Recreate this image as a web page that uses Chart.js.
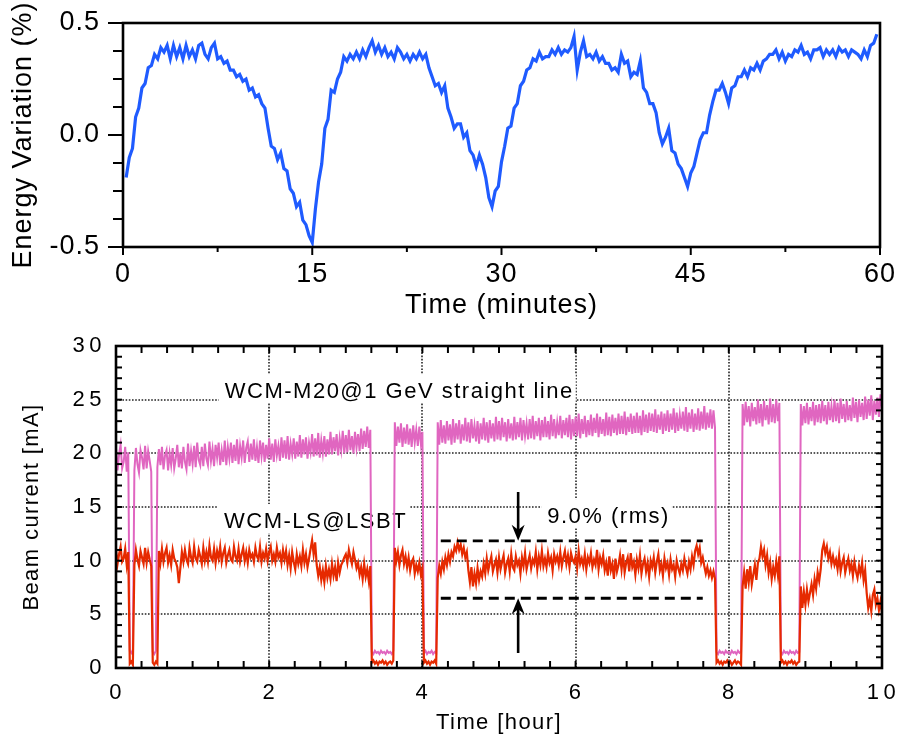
<!DOCTYPE html>
<html>
<head>
<meta charset="utf-8">
<script src="https://cdn.jsdelivr.net/npm/chart.js@4.4.1/dist/chart.umd.min.js"></script>
<style>
  body { margin: 0; background: #fff; width: 901px; height: 737px; overflow: hidden; position: relative; }
  canvas { position: absolute; left: 0; }
  #energy { top: 0; }
  #beam { top: 330px; }
</style>
</head>
<body>
<canvas id="energy" width="901" height="330"></canvas>
<canvas id="beam" width="901" height="407"></canvas>
<script>
// ---- top panel: energy variation, one sample every 0.25 min starting at 0.25 min
const energyStart = 0.25;
const energyStep = 0.25;
const energy = [
  -0.19, -0.10, -0.06, 0.08, 0.12, 0.21, 0.23, 0.30, 0.31, 0.36,
  0.34, 0.39, 0.37, 0.40, 0.34, 0.40, 0.35, 0.39, 0.34, 0.40,
  0.35, 0.38, 0.34, 0.40, 0.41, 0.36, 0.34, 0.39, 0.41, 0.34,
  0.35, 0.32, 0.33, 0.29, 0.29, 0.26, 0.27, 0.24, 0.25, 0.20,
  0.21, 0.17, 0.18, 0.14, 0.12, 0.03, -0.05, -0.06, -0.11, -0.08,
  -0.15, -0.16, -0.24, -0.26, -0.32, -0.30, -0.38, -0.40, -0.45, -0.48,
  -0.33, -0.21, -0.13, 0.03, 0.07, 0.20, 0.19, 0.25, 0.28, 0.35,
  0.33, 0.36, 0.34, 0.37, 0.34, 0.38, 0.35, 0.39, 0.42, 0.37,
  0.40, 0.36, 0.39, 0.35, 0.37, 0.34, 0.39, 0.37, 0.34, 0.36,
  0.33, 0.36, 0.34, 0.37, 0.34, 0.36, 0.30, 0.26, 0.22, 0.23,
  0.19, 0.22, 0.12, 0.08, 0.03, 0.05, 0.05, -0.01, 0.01, -0.07,
  -0.09, -0.14, -0.09, -0.13, -0.19, -0.28, -0.32, -0.25, -0.23, -0.12,
  -0.05, 0.03, 0.04, 0.12, 0.14, 0.22, 0.24, 0.29, 0.30, 0.34,
  0.33, 0.37, 0.34, 0.35, 0.35, 0.38, 0.36, 0.39, 0.36, 0.38,
  0.37, 0.39, 0.44, 0.29, 0.37, 0.42, 0.35, 0.36, 0.34, 0.37,
  0.33, 0.35, 0.32, 0.32, 0.29, 0.30, 0.28, 0.36, 0.32, 0.33,
  0.26, 0.28, 0.27, 0.33, 0.21, 0.19, 0.14, 0.14, 0.10, 0.01,
  -0.04, -0.01, 0.03, -0.07, -0.08, -0.13, -0.15, -0.19, -0.23, -0.17,
  -0.14, -0.08, -0.02, 0.01, 0.01, 0.09, 0.15, 0.20, 0.20, 0.23,
  0.19, 0.14, 0.21, 0.22, 0.26, 0.26, 0.29, 0.26, 0.30, 0.29,
  0.32, 0.29, 0.33, 0.34, 0.36, 0.36, 0.38, 0.34, 0.37, 0.33,
  0.36, 0.35, 0.38, 0.37, 0.40, 0.36, 0.37, 0.34, 0.38, 0.38,
  0.39, 0.35, 0.38, 0.36, 0.38, 0.35, 0.39, 0.37, 0.38, 0.35,
  0.38, 0.37, 0.36, 0.34, 0.38, 0.35, 0.40, 0.41, 0.45
];
const energyXTicks = [0, 15, 30, 45, 60];

// ---- bottom panel: beam current, one sample every 0.02 h from 0 to 10 h
const beamStep = 0.02;
const wcmM20 = [
  20.5, 18.4, 19.9, 20.8, 18.6, 19.2, 20.6, 18.3, 20.1, 1.6,
  1.4, 1.7, 18.4, 20.5, 19.0, 18.2, 20.3, 19.6, 18.5, 20.7,
  18.6, 20.2, 19.3, 18.3, 1.5, 1.3, 1.6, 18.7, 20.4, 18.9,
  20.6, 18.5, 19.8, 20.3, 18.4, 20.0, 18.9, 20.5, 18.6, 19.5,
  20.8, 18.7, 20.1, 18.6, 20.6, 19.2, 18.5, 20.9, 18.8, 20.2,
  19.0, 20.7, 18.7, 21.0, 19.4, 18.9, 20.6, 18.8, 20.9, 19.5,
  18.9, 21.1, 19.3, 20.4, 18.8, 20.8, 19.6, 21.0, 18.9, 20.3,
  19.2, 21.2, 18.9, 20.6, 19.5, 21.0, 19.1, 20.8, 19.3, 21.3,
  19.0, 20.7, 19.6, 21.2, 19.1, 20.5, 21.1, 19.2, 20.9, 19.4,
  21.3, 19.3, 20.6, 19.1, 21.2, 19.7, 21.0, 19.2, 20.8, 19.5,
  21.4, 19.4, 20.9, 19.2, 21.3, 19.8, 20.7, 19.3, 21.5, 19.6,
  21.2, 19.5, 21.6, 19.4, 20.9, 19.9, 21.4, 19.5, 21.1, 19.7,
  21.7, 19.6, 21.3, 19.9, 21.5, 19.5, 21.0, 20.1, 21.8, 19.7,
  21.4, 19.8, 21.9, 19.6, 21.2, 20.0, 21.6, 19.7, 21.3, 19.9,
  22.0, 19.9, 21.5, 20.2, 21.8, 19.8, 21.4, 20.3, 22.1, 20.0,
  21.7, 20.1, 22.2, 20.3, 21.6, 20.0, 22.0, 20.5, 21.8, 20.2,
  22.3, 20.4, 22.1, 20.6, 22.5, 20.5, 22.2, 1.5, 1.3, 1.6,
  1.4, 1.5, 1.3, 1.6, 1.4, 1.5, 1.3, 1.6, 1.4, 1.5,
  1.3, 1.6, 22.9, 20.7, 22.5, 21.0, 22.8, 20.6, 22.4, 20.9,
  22.7, 20.8, 22.3, 20.6, 22.6, 21.0, 22.2, 20.7, 22.5, 20.9,
  22.0, 1.4, 1.6, 1.3, 1.5, 1.4, 1.6, 1.3, 1.5, 1.4,
  22.9, 20.8, 23.1, 21.0, 22.6, 20.9, 23.0, 21.2, 22.7, 20.8,
  23.2, 21.0, 22.8, 21.3, 23.1, 20.9, 22.7, 21.2, 23.3, 21.1,
  22.9, 21.0, 23.2, 21.4, 22.6, 21.1, 23.0, 20.9, 22.8, 21.3,
  23.3, 21.2, 22.9, 21.0, 23.1, 21.4, 22.8, 21.1, 23.4, 21.3,
  23.0, 21.2, 23.3, 21.5, 22.9, 21.1, 23.2, 21.4, 22.8, 21.2,
  23.4, 21.3, 22.9, 21.5, 23.3, 21.2, 23.1, 21.6, 22.8, 21.3,
  23.2, 21.4, 23.5, 21.3, 23.0, 21.6, 23.3, 21.2, 23.1, 21.5,
  23.4, 21.5, 23.0, 21.3, 23.6, 21.6, 23.2, 21.4, 22.9, 21.7,
  23.5, 21.4, 23.1, 21.7, 23.3, 21.5, 23.6, 21.3, 23.2, 21.6,
  23.4, 21.6, 23.7, 21.4, 23.2, 21.8, 23.5, 21.5, 23.1, 21.7,
  23.6, 21.6, 23.3, 21.9, 23.7, 21.5, 23.4, 21.8, 23.2, 21.6,
  23.8, 21.7, 23.4, 21.6, 23.6, 21.9, 23.3, 21.7, 23.7, 21.8,
  23.5, 21.8, 23.9, 21.7, 23.4, 22.0, 23.7, 21.8, 23.5, 21.9,
  23.8, 21.9, 23.5, 21.7, 24.0, 22.0, 23.6, 21.9, 23.8, 22.1,
  23.7, 22.0, 24.1, 21.9, 23.6, 22.2, 23.9, 21.8, 23.7, 22.1,
  24.0, 22.0, 23.7, 22.2, 24.2, 21.9, 23.8, 22.1, 23.6, 22.3,
  23.9, 22.1, 24.3, 22.0, 23.8, 22.3, 24.1, 22.0, 23.7, 22.2,
  24.2, 22.1, 23.9, 22.3, 24.4, 22.2, 23.8, 22.4, 24.1, 22.3,
  24.0, 22.4, 1.5, 1.3, 1.6, 1.4, 1.5, 1.3, 1.6, 1.4,
  1.5, 1.3, 1.6, 1.4, 1.5, 1.3, 1.6, 1.4, 1.5, 24.6,
  22.6, 24.8, 22.9, 24.4, 22.5, 24.7, 23.0, 24.3, 22.7, 25.0,
  22.8, 24.6, 22.5, 24.9, 23.1, 24.5, 22.7, 25.1, 22.9, 24.6,
  22.8, 25.0, 23.0, 24.7, 1.5, 1.3, 1.6, 1.4, 1.5, 1.3,
  1.6, 1.4, 1.5, 1.3, 1.6, 1.4, 1.5, 24.6, 22.6, 24.4,
  22.8, 24.7, 22.7, 24.3, 23.0, 24.8, 22.6, 24.5, 22.9, 24.6,
  22.8, 24.9, 23.0, 24.5, 22.7, 24.8, 23.1, 24.4, 22.9, 25.0,
  23.0, 24.7, 22.8, 25.1, 23.2, 24.6, 22.9, 24.9, 23.1, 24.5,
  23.0, 25.2, 23.3, 24.8, 22.9, 25.0, 23.4, 24.7, 23.1, 25.3,
  23.2, 25.0, 23.5, 25.4, 23.1, 24.9, 23.6, 25.2, 23.4, 25.5,
  24.2
];
const wcmLS = [
  11.0, 9.7, 10.6, 11.3, 9.9, 10.2, 11.1, 9.6, 10.8, 0.4,
  0.6, 0.3, 9.6, 11.0, 10.1, 9.5, 10.9, 10.3, 9.7, 11.2,
  9.8, 10.8, 10.1, 9.5, 0.5, 0.3, 0.6, 0.4, 10.9, 9.8,
  11.1, 9.9, 10.7, 11.2, 9.8, 10.5, 9.6, 11.0, 10.2, 9.9,
  9.4, 7.9, 9.3, 10.8, 9.9, 11.0, 10.1, 9.7, 11.2, 10.3,
  9.8, 11.3, 10.2, 9.9, 11.0, 10.4, 9.7, 11.2, 10.0, 10.8,
  9.9, 11.4, 10.3, 10.0, 11.1, 9.8, 10.9, 10.2, 11.3, 9.9,
  10.7, 11.2, 9.8, 10.5, 11.0, 10.1, 9.9, 11.3, 10.4, 10.0,
  11.1, 9.9, 10.6, 11.2, 10.0, 10.8, 9.8, 11.0, 10.3, 10.6,
  9.9, 11.2, 10.4, 10.1, 11.3, 9.9, 10.7, 10.2, 11.1, 10.0,
  10.8, 11.3, 10.0, 10.6, 9.9, 11.2, 10.3, 10.7, 9.8, 11.0,
  10.1, 10.9, 9.6, 10.5, 9.3, 10.8, 9.9, 9.2, 10.6, 9.7,
  10.4, 9.5, 11.0, 9.8, 10.6, 9.4, 10.2, 11.1, 11.9, 10.6,
  11.7, 9.6, 8.6, 9.4, 8.2, 9.1, 8.0, 9.5, 8.4, 9.2,
  8.3, 9.7, 8.6, 9.4, 8.1, 9.8, 8.9, 9.6, 9.9, 10.3,
  10.6, 9.8, 11.0, 10.3, 9.7, 10.8, 10.1, 9.3, 9.8, 8.7,
  9.4, 8.3, 9.7, 8.5, 9.2, 8.1, 9.5, 0.5, 0.7, 0.4,
  0.6, 0.3, 0.6, 0.5, 0.7, 0.4, 0.6, 0.3, 0.5, 0.6,
  0.4, 0.7, 11.2, 10.0, 10.8, 9.6, 10.5, 11.0, 9.7, 10.4,
  9.4, 10.3, 9.1, 9.9, 10.2, 8.8, 9.6, 9.0, 9.8, 8.7,
  9.3, 0.5, 0.7, 0.4, 0.6, 0.3, 0.6, 0.5, 0.7, 0.4,
  8.4, 9.5, 8.8, 9.9, 9.2, 10.3, 9.6, 10.6, 9.9, 10.8,
  10.4, 11.3, 10.9, 11.7, 11.0, 11.5, 10.6, 11.2, 10.3, 10.8,
  9.1, 8.0, 9.4, 7.6, 8.8, 7.9, 9.3, 8.2, 9.0, 8.5,
  9.7, 8.8, 10.2, 9.1, 9.8, 10.4, 9.0, 9.6, 10.1, 8.9,
  10.3, 9.2, 9.9, 10.5, 8.9, 9.7, 10.2, 9.0, 10.6, 9.4,
  9.1, 10.4, 9.6, 10.0, 8.8, 10.3, 9.5, 10.7, 9.2, 9.9,
  10.5, 9.3, 10.1, 9.7, 10.8, 9.2, 10.4, 9.6, 10.9, 9.5,
  10.2, 9.4, 10.7, 9.8, 10.3, 9.1, 10.6, 9.9, 10.4, 9.6,
  10.8, 9.5, 10.3, 10.9, 9.7, 10.5, 9.4, 10.7, 10.1, 9.8,
  10.4, 9.3, 10.9, 9.7, 10.2, 9.5, 10.6, 9.2, 10.3, 9.8,
  10.7, 9.4, 10.1, 9.6, 11.0, 9.2, 10.3, 9.7, 10.5, 9.1,
  9.8, 8.6, 10.4, 9.1, 9.7, 8.3, 10.2, 9.0, 9.6, 10.5,
  9.2, 10.6, 8.9, 9.8, 10.3, 9.0, 10.7, 9.4, 9.9, 8.7,
  10.1, 9.3, 10.5, 8.8, 9.7, 10.2, 9.0, 9.8, 8.5, 10.0,
  9.4, 10.3, 8.9, 9.9, 10.6, 9.1, 9.7, 8.6, 10.2, 9.3,
  9.8, 8.7, 10.1, 9.2, 9.6, 8.5, 10.0, 9.3, 8.8, 9.7,
  9.1, 10.2, 9.4, 8.8, 9.9, 9.2, 10.4, 9.6, 10.9, 11.4,
  10.6, 11.2, 9.8, 10.3, 9.5, 8.8, 9.4, 8.6, 9.1, 8.4,
  9.0, 8.3, 0.5, 0.7, 0.4, 0.6, 0.3, 0.6, 0.5, 0.7,
  0.4, 0.6, 0.3, 0.5, 0.7, 0.4, 0.6, 0.5, 0.3, 7.6,
  8.9, 7.4, 9.2, 8.0, 9.5, 7.8, 8.7, 9.6, 8.2, 9.8,
  10.2, 11.3, 10.4, 11.0, 9.6, 10.5, 8.9, 9.8, 8.3, 9.4,
  8.6, 9.9, 8.7, 10.4, 0.5, 0.7, 0.4, 0.6, 0.3, 0.6,
  0.5, 0.7, 0.4, 0.6, 0.3, 0.5, 0.6, 7.6, 5.6, 7.1,
  5.9, 7.3, 6.2, 7.0, 7.8, 6.8, 8.3, 7.4, 8.9, 8.1,
  9.2, 11.0, 11.6, 10.7, 11.3, 10.2, 10.8, 9.7, 10.4, 9.6,
  10.1, 9.2, 10.5, 9.0, 9.8, 10.3, 8.9, 9.6, 10.2, 9.1,
  9.7, 8.6, 9.9, 9.0, 8.4, 9.5, 8.8, 9.8, 8.2, 9.1,
  7.0, 5.6, 6.4, 5.3, 6.8, 7.3, 5.9, 6.5, 5.4, 6.2,
  5.1
];
const beamGridX = [2, 4, 6, 8];
const beamGridY = [5, 10, 15, 20, 25];
const notes = [
  { text: 'WCM-M20@1 GeV straight line', x: 1.42, y: 25.15 },
  { text: 'WCM-LS@LSBT', x: 1.41, y: 13.04 },
  { text: '9.0% (rms)', x: 5.63, y: 13.5 }
];
const rmsBand = { from: 4.24, to: 7.66, high: 11.85, low: 6.5 };
const arrowX = 5.25;
const arrowDown = [16.4, 11.85];
const arrowUp = [1.4, 6.5];

const FONT = '"Liberation Sans", Arial, Helvetica, sans-serif';
Chart.defaults.font.family = FONT;
Chart.defaults.color = '#000';

function line(ctx, x1, y1, x2, y2) {
  ctx.beginPath(); ctx.moveTo(x1, y1); ctx.lineTo(x2, y2); ctx.stroke();
}
function spaced(px) {
  return { id: 'spaced', beforeDraw(c) { c.ctx.letterSpacing = px; } };
}
// fixed box sizes, no extra room for overhanging labels
function fixX(h) {
  return s => { s.height = h; s.paddingLeft = 0; s.paddingRight = 0; };
}
function fixY(w) {
  return s => { s.width = w; s.paddingTop = 0; s.paddingBottom = 0; };
}
const digits = v => String(v).split('').join('\u200a');

// frame and outside ticks of the energy plot
const energyFrame = {
  id: 'energyFrame',
  afterDatasetsDraw(chart) {
    const { ctx, chartArea: a, scales: { x, y } } = chart;
    ctx.save();
    ctx.strokeStyle = '#000';
    ctx.lineWidth = 2;
    for (let v = -0.5; v <= 0.5001; v += 0.125) {
      const py = y.getPixelForValue(v);
      const major = Math.abs(v * 2 - Math.round(v * 2)) < 1e-6;
      line(ctx, a.left - (major ? 15 : 10), py, a.left, py);
    }
    for (let v = 0; v <= 60; v += 7.5) {
      const px = x.getPixelForValue(v);
      line(ctx, px, a.bottom, px, a.bottom + (v % 15 === 0 ? 8 : 5));
    }
    ctx.lineWidth = 2.6;
    ctx.strokeRect(a.left, a.top, a.width, a.height);
    ctx.restore();
  }
};

new Chart(document.getElementById('energy'), {
  type: 'line',
  data: {
    datasets: [{
      data: energy.map((v, i) => ({ x: energyStart + i * energyStep, y: v })),
      borderColor: '#1f5bff',
      borderWidth: 3.2,
      pointRadius: 0,
      tension: 0,
      fill: false
    }]
  },
  options: {
    responsive: false,
    animation: false,
    devicePixelRatio: 1,
    layout: { padding: { left: 0, right: 21, top: 23, bottom: 0 } },
    plugins: { legend: { display: false }, tooltip: { enabled: false } },
    scales: {
      x: {
        type: 'linear', min: 0, max: 60,
        afterBuildTicks: s => { s.ticks = energyXTicks.map(v => ({ value: v })); },
        grid: { display: false, drawTicks: false },
        border: { display: false },
        ticks: { font: { size: 27 }, padding: 11, maxRotation: 0, autoSkip: false },
        title: { display: true, text: 'Time (minutes)', font: { size: 27 }, padding: { top: 0, bottom: 8 } },
        afterFit: fixX(83)
      },
      y: {
        min: -0.5, max: 0.5,
        grid: { display: false, drawTicks: false },
        border: { display: false },
        ticks: { stepSize: 0.5, font: { size: 27 }, padding: 23, callback: v => v.toFixed(1) },
        title: { display: true, text: 'Energy Variation (%)', font: { size: 27 }, padding: { top: 7, bottom: 0 } },
        afterFit: fixY(123)
      }
    }
  },
  plugins: [spaced('1px'), energyFrame]
});

// grid, notes, rms band, arrows, frame and inside ticks of the beam plot
const beamDecor = {
  id: 'beamDecor',
  beforeDatasetsDraw(chart) {
    const { ctx, chartArea: a, scales: { x, y } } = chart;
    ctx.save();
    ctx.strokeStyle = '#222';
    ctx.lineWidth = 1.6;
    ctx.setLineDash([1.6, 1.6]);
    beamGridX.forEach(v => { const px = Math.round(x.getPixelForValue(v)); line(ctx, px, a.top, px, a.bottom); });
    beamGridY.forEach(v => { const py = Math.round(y.getPixelForValue(v)); line(ctx, a.left, py, a.right, py); });
    ctx.setLineDash([]);
    ctx.font = '22px ' + FONT;
    ctx.letterSpacing = '1.5px';
    ctx.textBaseline = 'alphabetic';
    ctx.textAlign = 'left';
    notes.forEach(n => {
      const w = ctx.measureText(n.text).width;
      const px = x.getPixelForValue(n.x);
      const py = y.getPixelForValue(n.y);
      ctx.fillStyle = '#fff';
      ctx.fillRect(px - 6, py - 24, w + 8, 29);
      ctx.fillStyle = '#000';
      ctx.fillText(n.text, px, py);
    });
    ctx.restore();
  },
  afterDatasetsDraw(chart) {
    const { ctx, chartArea: a, scales: { x, y } } = chart;
    ctx.save();
    ctx.strokeStyle = '#000';
    ctx.fillStyle = '#000';
    // rms band
    ctx.lineWidth = 2.8;
    ctx.setLineDash([10, 6]);
    const x1 = x.getPixelForValue(rmsBand.from), x2 = x.getPixelForValue(rmsBand.to);
    [rmsBand.high, rmsBand.low].forEach(v => { const py = y.getPixelForValue(v); line(ctx, x1, py, x2, py); });
    ctx.setLineDash([]);
    // arrows
    const ax = x.getPixelForValue(arrowX);
    [arrowDown, arrowUp].forEach(([from, to]) => {
      const p0 = y.getPixelForValue(from), p1 = y.getPixelForValue(to);
      const dir = Math.sign(p1 - p0);
      ctx.lineWidth = 2.6;
      line(ctx, ax, p0, ax, p1 - dir * 8);
      ctx.beginPath();
      ctx.moveTo(ax, p1);
      ctx.lineTo(ax - 6.5, p1 - dir * 16);
      ctx.lineTo(ax, p1 - dir * 11);
      ctx.lineTo(ax + 6.5, p1 - dir * 16);
      ctx.closePath();
      ctx.fill();
    });
    // inside ticks
    ctx.lineWidth = 2;
    for (let v = 1; v < 30; v++) {
      const py = y.getPixelForValue(v);
      line(ctx, a.left, py, a.left + 6, py);
      line(ctx, a.right - 6, py, a.right, py);
    }
    for (let k = 1; k < 30; k++) {
      const px = x.getPixelForValue(k / 3);
      line(ctx, px, a.top, px, a.top + 7);
      line(ctx, px, a.bottom - 7, px, a.bottom);
    }
    ctx.lineWidth = 2.6;
    ctx.strokeRect(a.left, a.top, a.width, a.height);
    ctx.restore();
  }
};

const beamPoints = arr => arr.map((v, i) => ({ x: i * beamStep, y: v }));

new Chart(document.getElementById('beam'), {
  type: 'line',
  data: {
    datasets: [
      { data: beamPoints(wcmLS), borderColor: '#e62a00', borderWidth: 2.2, pointRadius: 0, tension: 0, fill: false },
      { data: beamPoints(wcmM20), borderColor: '#e066c0', borderWidth: 2, pointRadius: 0, tension: 0, fill: false }
    ]
  },
  options: {
    responsive: false,
    animation: false,
    devicePixelRatio: 1,
    layout: { padding: { left: 0, right: 19, top: 16, bottom: 0 } },
    plugins: { legend: { display: false }, tooltip: { enabled: false } },
    scales: {
      x: {
        type: 'linear', min: 0, max: 10,
        grid: { display: false, drawTicks: false },
        border: { display: false },
        ticks: { stepSize: 2, font: { size: 22 }, padding: 12, maxRotation: 0, autoSkip: false, callback: digits },
        title: { display: true, text: 'Time [hour]', font: { size: 22 }, padding: { top: 0, bottom: 1 } },
        afterFit: fixX(69)
      },
      y: {
        min: 0, max: 30,
        grid: { display: false, drawTicks: false },
        border: { display: false },
        ticks: { stepSize: 5, font: { size: 22 }, padding: 13, callback: digits },
        title: { display: true, text: 'Beam current [mA]', font: { size: 22 }, padding: { top: 19, bottom: 0 } },
        afterFit: fixY(116)
      }
    }
  },
  plugins: [spaced('1.4px'), beamDecor]
});
</script>
</body>
</html>
